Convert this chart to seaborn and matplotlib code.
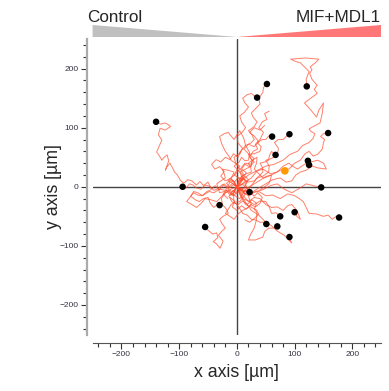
import numpy as np
import pandas as pd
import matplotlib
matplotlib.use("Agg")
import matplotlib.pyplot as plt
import seaborn as sns
from matplotlib.patches import Polygon

# ---------------- data (µm) ----------------
tracks = {
    "t01": [(0,0),(-8,6),(-15,-2),(-22,5),(-30,-5),(-38,2),(-44,-4),(-50,8),(-58,2),(-64,9),(-70,3),(-78,10),(-85,12),(-92,6),(-98,11),(-103,20),(-108,25),(-112,33),(-116,40),(-121,34),(-124,28),(-118,44),(-121,54),(-126,50),(-130,45),(-134,52),(-139,59),(-135,68),(-130,79),(-136,88),(-133,99),(-124,96),(-115,102),(-120,106),(-125,108),(-132,106),(-140,110)],
    "t02": [(0,0),(-5,-6),(-10,-8),(-16,-2),(-25,4),(-32,-3),(-40,-6),(-47,1),(-55,3),(-62,-4),(-70,-2),(-76,3),(-82,5),(-88,-2),(-94,0)],
    "t03": [(0,0),(-6,10),(-12,8),(-16,0),(-20,-6),(-30,-4),(-40,-10),(-48,-8),(-60,-15),(-68,-10),(-75,-8),(-80,-16),(-72,-22),(-65,-25),(-58,-20),(-50,-18),(-46,-28),(-40,-35),(-34,-30),(-30,-31)],
    "t04": [(0,0),(-4,-8),(-8,-15),(-14,-8),(-20,-10),(-27,-20),(-25,-30),(-18,-38),(-15,-45),(-24,-50),(-30,-55),(-26,-62),(-20,-70),(-27,-76),(-32,-82),(-24,-92),(-29,-104),(-36,-96),(-41,-93),(-33,-86),(-35,-78),(-42,-80),(-48,-75),(-52,-72),(-55,-68)],
    "t05": [(0,0),(6,8),(10,20),(2,28),(-5,35),(4,42),(8,50),(14,44),(20,45),(22,58),(15,70),(24,74),(30,80),(26,88),(20,95),(30,102),(35,110),(28,118),(25,125),(33,133),(40,140),(38,150),(45,160),(46,168),(52,174)],
    "t06": [(0,0),(-6,8),(-10,15),(-2,22),(5,30),(-2,40),(-5,50),(4,56),(10,65),(2,74),(0,85),(9,92),(15,100),(8,110),(5,120),(13,126),(20,135),(14,142),(10,150),(18,156),(25,158),(30,154),(35,151)],
    "t07": [(0,0),(12,6),(25,15),(36,28),(50,35),(64,38),(80,45),(92,55),(105,60),(114,70),(125,75),(132,82),(135,90),(128,94),(125,98),(136,104),(144,108),(148,125),(150,142),(142,130),(138,118),(128,130),(117,142),(128,150),(139,158),(134,165),(139,172),(130,182),(126,192),(130,198),(127,203),(136,210),(142,216),(120,218),(93,216),(102,212),(110,210),(118,202),(125,195),(120,182),(121,170)],
    "t08": [(0,0),(8,4),(15,10),(8,18),(5,25),(15,30),(25,35),(26,45),(20,55),(30,56),(40,60),(42,68),(35,75),(44,80),(50,80),(55,86),(61,85)],
    "t09": [(0,0),(10,4),(20,-5),(28,6),(35,15),(45,18),(55,25),(56,35),(50,45),(60,48),(70,55),(72,65),(65,75),(72,80),(80,80),(86,86),(91,89)],
    "t10": [(0,0),(15,-4),(30,5),(45,14),(60,20),(75,28),(90,30),(100,40),(110,45),(118,56),(125,60),(132,52),(140,55),(148,64),(150,75),(152,80),(145,85),(150,90),(158,91)],
    "t11": [(0,0),(4,8),(10,15),(20,8),(30,10),(38,18),(45,25),(44,33),(40,40),(48,42),(55,45),(56,52),(60,60),(64,56),(67,54)],
    "t12": [(0,0),(12,-6),(25,-10),(38,-2),(50,5),(62,12),(75,15),(85,8),(95,10),(102,20),(110,25),(120,28),(130,35),(126,40),(123,44)],
    "t13": [(0,0),(10,12),(20,20),(32,26),(45,30),(58,22),(70,25),(80,35),(90,40),(98,34),(105,30),(120,40),(140,45),(150,40),(155,30),(140,32),(125,37)],
    "t14": [(0,0),(10,-10),(20,-15),(32,-8),(45,-5),(58,2),(70,5),(82,-4),(95,-10),(108,-3),(120,5),(132,2),(146,-1)],
    "t15": [(0,0),(-5,-6),(-10,-10),(-2,-16),(5,-20),(10,-12),(15,-5),(18,-8),(22,-9)],
    "t16": [(0,0),(12,-8),(25,-10),(38,-8),(50,-15),(62,-14),(75,-20),(88,-12),(100,-15),(108,-20),(115,-25),(120,-35),(125,-45),(138,-46),(150,-50),(158,-48),(165,-55),(172,-50),(177,-52)],
    "t17": [(0,0),(10,-14),(20,-25),(30,-18),(40,-20),(50,-30),(60,-35),(70,-34),(80,-40),(88,-32),(95,-30),(104,-40),(110,-55),(104,-50),(100,-43)],
    "t18": [(0,0),(4,-10),(10,-20),(20,-24),(30,-30),(40,-24),(50,-25),(56,-34),(60,-45),(68,-44),(75,-50)],
    "t19": [(0,0),(-6,-12),(-5,-25),(3,-34),(10,-45),(18,-48),(25,-55),(32,-56),(40,-60),(46,-60),(51,-63)],
    "t20": [(0,0),(6,-15),(15,-30),(24,-34),(35,-40),(34,-55),(30,-70),(24,-80),(20,-90),(32,-90),(45,-85),(48,-76),(55,-70),(62,-70),(70,-67)],
    "t21": [(0,0),(12,-22),(25,-40),(38,-48),(50,-60),(60,-66),(70,-75),(82,-82),(95,-95),(92,-90),(91,-85)],
    "e01": [(0,0),(-8,6),(-15,10),(-8,18),(-5,25),(-15,28),(-25,30),(-22,22),(-20,15),(-28,10),(-35,5),(-32,-3),(-30,-10),(-22,-8),(-15,-5),(-10,-12),(-5,-15),(0,-8),(5,-5)],
    "e02": [(0,0),(6,6),(10,12),(2,16),(-5,20),(0,28),(5,35),(-3,40),(-10,45),(-14,52),(-20,60),(-26,72),(-30,85),(-22,90),(-15,92),(-10,86),(-5,80),(0,88),(5,95),(12,82),(15,70),(8,62),(5,55)],
    "e03": [(0,0),(8,-6),(15,-12),(10,-18),(5,-25),(-3,-26),(-10,-30),(-15,-38),(-20,-45),(-12,-50),(-5,-55),(2,-46),(10,-40),(18,-36),(25,-30),(22,-22),(20,-15)],
    "e04": [(0,0),(-10,-4),(-20,-10),(-28,-18),(-35,-25),(-45,-22),(-55,-20),(-62,-28),(-70,-35),(-78,-30),(-87,-25),(-80,-16),(-75,-10),(-68,-14),(-60,-15),(-52,-8),(-45,-5)],
    "e05": [(0,0),(3,10),(8,18),(16,22),(25,25),(24,32),(20,40),(28,46),(35,50),(34,40),(30,30),(38,22),(45,15),(52,18),(60,20),(58,12),(55,5),(48,0),(40,-5)],
    "e06": [(0,0),(-6,4),(-12,-2),(-18,6),(-10,12),(-4,8),(2,16),(8,10),(14,18),(20,12),(14,4),(20,-4),(12,-8),(6,-4),(0,-12),(-6,-6),(-12,-14),(-18,-6),(-24,-12),(-16,-20)],
    "e07": [(0,0),(5,-6),(12,-2),(18,8),(10,14),(16,24),(8,30),(14,38),(22,34),(30,42),(22,50),(28,60),(36,64),(32,72),(40,80),(46,92),(38,100),(44,110),(52,114),(48,124),(56,128)],
    "e08": [(0,0),(-4,8),(-12,14),(-20,10),(-28,18),(-22,26),(-30,34),(-38,30),(-44,38),(-36,46),(-28,42),(-20,50),(-12,46),(-6,56),(2,50),(6,60)],
    "e09": [(0,0),(8,-4),(14,-12),(22,-8),(30,-16),(36,-10),(44,-18),(40,-28),(32,-34),(24,-30),(16,-38),(8,-32),(0,-40),(-8,-34),(-4,-24),(-12,-18)],
    "e10": [(0,0),(4,12),(12,20),(6,30),(14,40),(24,38),(30,48),(20,56),(12,64),(20,72),(30,68),(38,76),(30,86),(22,92),(30,100),(40,96),(48,104)],
    "e11": [(0,0),(-6,-10),(-14,-16),(-8,-26),(2,-30),(10,-24),(18,-30),(26,-22),(34,-28),(30,-38),(38,-46),(30,-54),(22,-60),(14,-56)],
}
end_x = [-140, -94, -30, -55, 52, 35, 121, 61, 91, 158, 67, 123, 125, 146, 22, 177, 100, 75, 51, 70, 91]
end_y = [110, 0, -31, -68, 174, 151, 170, 85, 89, 91, 54, 44, 37, -1, -9, -52, -43, -50, -63, -67, -85]
center_x = [83]
center_y = [27]
x_ticks = [-200, -100, 0, 100, 200]
y_ticks = [-200, -100, 0, 100, 200]
group_labels = ["Control", "MIF+MDL1"]

rows = []
for name, pts in tracks.items():
    for i, (x, y) in enumerate(pts):
        rows.append({"track": name, "step": i, "x": x, "y": y})
df = pd.DataFrame(rows)

# ---------------- style ----------------
sns.set_style("ticks")
plt.rcParams["font.family"] = ["Liberation Sans", "DejaVu Sans"]

fig = plt.figure(figsize=(3.89, 3.91), dpi=100)
ax = fig.add_axes([0.238, 0.1445, 0.742, 0.7555])

ax.axvline(0, color="#444444", lw=1.0, zorder=1)
ax.axhline(0, color="#444444", lw=1.0, zorder=1)

sns.lineplot(data=df, x="x", y="y", units="track", estimator=None, sort=False,
             color="#ff4a2a", alpha=0.7, lw=0.7, ax=ax, zorder=2, legend=False)
sns.scatterplot(x=end_x, y=end_y, color="black", s=22, edgecolor="none", ax=ax, zorder=3)
sns.scatterplot(x=center_x, y=center_y, color="#ff9900", s=30, edgecolor="none", ax=ax, zorder=4)

ax.set_xlim(-250, 250)
ax.set_ylim(-250, 250)
ax.set_xticks(x_ticks)
ax.set_yticks(y_ticks)
ax.set_xticks(np.arange(-240, 241, 20), minor=True)
ax.set_yticks(np.arange(-240, 241, 20), minor=True)
ax.tick_params(which="major", length=4, width=0.8, color="#333333", labelsize=6, labelcolor="#333344", pad=2)
ax.tick_params(which="minor", length=3, width=0.8, color="#333333")

for s in ["top", "right"]:
    ax.spines[s].set_visible(False)
ax.spines["left"].set_position(("outward", 4))
ax.spines["bottom"].set_position(("outward", 6))
ax.spines["left"].set_color("#aaaaaa")
ax.spines["left"].set_linewidth(1.6)
ax.spines["bottom"].set_color("#555555")
ax.spines["bottom"].set_linewidth(0.8)

ax.set_xlabel("x axis [µm]", fontsize=12.8)
ax.set_ylabel("y axis [µm]", fontsize=12.8)
ax.xaxis.set_label_coords(0.5, -0.127)
ax.yaxis.set_label_coords(-0.137, 0.5)
ax.xaxis.label.set_va("center")
ax.yaxis.label.set_va("center")

# top wedges (data-x / figure-y mixed coordinates)
trans = matplotlib.transforms.blended_transform_factory(ax.transData, fig.transFigure)
y_base = 1 - 37 / 391
y_top = 1 - 25 / 391
fig.patches.append(Polygon([(-250, y_base), (0, y_base), (-250, y_top)], closed=True,
                           transform=trans, facecolor="#c0c0c0", edgecolor="none", figure=fig))
fig.patches.append(Polygon([(0, y_base), (250, y_base), (250, y_top)], closed=True,
                           transform=trans, facecolor="#ff7777", edgecolor="none", figure=fig))
fig.text(87 / 389, 1 - 22 / 391, group_labels[0], fontsize=12.3, ha="left", va="baseline")
fig.text(381 / 389, 1 - 22 / 391, group_labels[1], fontsize=12.3, ha="right", va="baseline")

fig.savefig("out.png", dpi=100)
